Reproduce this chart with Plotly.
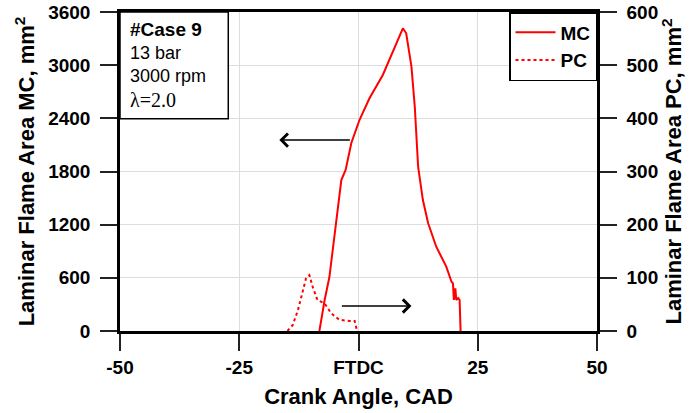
import plotly.graph_objects as go

# MC (left axis, mm^2)
mc_x = [-8.2, -7.1, -6.1, -4.7, -3.6, -2.7, -1.5, 0.2, 2.3, 5.1, 7.2, 9.3, 10.0, 11.1, 11.8,
        12.5, 13.5, 14.6, 16.3, 18.4, 19.5, 19.8, 20.0, 20.3, 20.5, 20.9, 21.2, 21.4]
mc_y = [0, 350, 609, 1253, 1704, 1817, 2122, 2381, 2626, 2889, 3152, 3416, 3360, 2983, 2531,
        1854, 1478, 1215, 951, 726, 556, 538, 350, 481, 350, 372, 350, 0]

# PC (right axis, mm^2)
pc_x = [-14.9, -13.8, -12.7, -11.7, -11.0, -10.3, -9.6, -8.6, -7.1, -5.7, -4.0, -1.9, -0.8, -0.3]
pc_y = [0, 11, 39, 77, 99, 105, 83, 58, 52, 33, 21, 19, 19, 0]

x_ticks = [-50, -25, 0, 25, 50]
x_ticktext = ["-50", "-25", "FTDC", "25", "50"]
y1_ticks = [0, 600, 1200, 1800, 2400, 3000, 3600]
y2_ticks = [0, 100, 200, 300, 400, 500, 600]

info_lines = ["<b>#Case 9</b>", "13 bar", "3000 rpm"]
info_sizes = [19, 18, 18]
lambda_line = "λ=2.0"

FONT = "Liberation Sans, Arial, sans-serif"

fig = go.Figure()
fig.add_trace(go.Scatter(x=mc_x, y=mc_y, mode="lines", name="<b>MC</b>",
                         line=dict(color="#ff0000", width=2)))
fig.add_trace(go.Scatter(x=pc_x, y=pc_y, mode="lines", name="<b>PC</b>", yaxis="y2",
                         line=dict(color="#ff0000", width=2, dash="dot")))

axis_common = dict(ticks="outside", ticklen=17, tickwidth=2, tickcolor="#222222",
                   showline=True, linecolor="black", linewidth=2.5,
                   tickfont=dict(family=FONT, size=19, color="black", weight="bold"),
                   zeroline=False, automargin=False)

fig.update_layout(
    width=695, height=413,
    margin=dict(l=120, r=98, t=12, b=82),
    plot_bgcolor="white", paper_bgcolor="white",
    showlegend=True,
    legend=dict(x=1, y=1, xanchor="right", yanchor="top",
                bordercolor="black", borderwidth=1.5, bgcolor="white",
                font=dict(family=FONT, size=19, color="black"),
                itemwidth=40),
    xaxis=dict(range=[-50, 50], tickvals=x_ticks, ticktext=x_ticktext,
               showgrid=True, gridcolor="#dddddd", gridwidth=1, mirror=True,
               ticklabelstandoff=0,
               title=dict(text="<b>Crank Angle, CAD</b>", font=dict(family=FONT, size=22, color="black"),
                          standoff=13),
               **axis_common),
    yaxis=dict(range=[0, 3600], tickvals=y1_ticks, showgrid=True, gridcolor="#dddddd", gridwidth=1,
               ticklabelstandoff=6,
               title=dict(text="<b>Laminar Flame Area MC, mm<sup>2</sup></b>",
                          font=dict(family=FONT, size=22, color="black"), standoff=8),
               **axis_common),
    yaxis2=dict(range=[0, 600], tickvals=y2_ticks, overlaying="y", side="right", showgrid=False,
                ticklabelstandoff=6,
                title=dict(text="<b>Laminar Flame Area PC, mm<sup>2</sup></b>",
                           font=dict(family=FONT, size=22, color="black"), standoff=6),
                **axis_common),
)

# info box
fig.add_shape(type="rect", xref="paper", yref="paper", x0=0, x1=0.227, y0=0.665, y1=1,
              line=dict(color="black", width=1.5), fillcolor="white", layer="above")
line_y = [0.944, 0.872, 0.80]
for txt, yy, sz in zip(info_lines, line_y, info_sizes):
    fig.add_annotation(text=txt, xref="paper", yref="paper", x=0.017, y=yy, xanchor="left",
                       yanchor="middle", showarrow=False,
                       font=dict(family=FONT, size=sz, color="black"))
fig.add_annotation(text=lambda_line, xref="paper", yref="paper", x=0.017, y=0.725, xanchor="left",
                   yanchor="middle", showarrow=False,
                   font=dict(family="Liberation Serif, Times New Roman, serif", size=20, color="black"))

# arrows
arrow_left = dict(tail=(-1.5, 2155), head=(-16.6, 2155))
arrow_right = dict(tail=(-3.8, 282), head=(11.1, 282))
for a in (arrow_left, arrow_right):
    fig.add_annotation(x=a["head"][0], y=a["head"][1], ax=a["tail"][0], ay=a["tail"][1],
                       xref="x", yref="y", axref="x", ayref="y", text="", showarrow=True,
                       arrowhead=4, arrowsize=1.7, arrowwidth=1.5, arrowcolor="black")

fig.write_html("out.html")
